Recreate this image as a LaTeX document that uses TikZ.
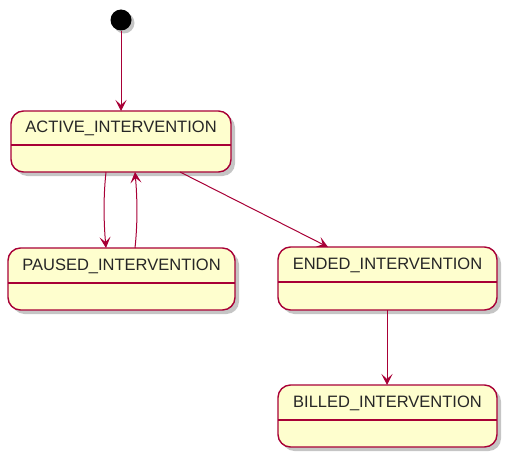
\documentclass[tikz,border=0pt]{standalone}
\usepackage{fontspec}
\setmainfont{Liberation Sans}
\usetikzlibrary{arrows.meta,shadows}
\definecolor{umlfill}{HTML}{FEFECE}
\definecolor{umlline}{HTML}{A80036}
\tikzset{
  statebox/.style={draw=umlline, line width=1.4pt, fill=umlfill, rounded corners=12.5pt,
    drop shadow={shadow xshift=4pt, shadow yshift=-4pt, fill=black!45, opacity=0.5}},
  conn/.style={draw=umlline, line width=1pt, -{Stealth[length=11pt,width=11pt,inset=5pt]}},
  lbl/.style={font=\fontsize{16.5pt}{18pt}\selectfont, text=black!85}
}
\begin{document}
\begin{tikzpicture}[x=1pt,y=-1pt]
\useasboundingbox (0,0) rectangle (510,460);
% initial
\node[circle, fill=black, minimum size=21pt, inner sep=0pt,
  drop shadow={shadow xshift=3pt, shadow yshift=-3pt, fill=black!45, opacity=0.5}] (init) at (121,20) {};
% states
\newcommand\umlstate[5]{%
  \path[statebox] (#1,#2) rectangle (#3,#4);
  \draw[umlline, line width=1.4pt] (#1,#5) -- (#3,#5);
}
\umlstate{11}{111}{231}{172}{145}
\node[lbl] (active) at (121,128.5) {ACTIVE\_INTERVENTION};
\umlstate{8}{248}{235}{310}{283}
\node[lbl] (paused) at (121.5,266) {PAUSED\_INTERVENTION};
\umlstate{278}{247}{497}{310}{282}
\node[lbl] (ended) at (387.5,265) {ENDED\_INTERVENTION};
\umlstate{278}{385}{497}{447}{420}
\node[lbl] (billed) at (387.5,403) {BILLED\_INTERVENTION};
% anchor coordinates
\coordinate (a1) at (106,172);
\coordinate (p1) at (106,248);
\coordinate (p2) at (135,248);
\coordinate (a2) at (135,172);
\coordinate (a3) at (180,172);
\coordinate (e1) at (328,247);
\coordinate (e2) at (387,310);
\coordinate (b1) at (387,385);
\coordinate (a0) at (121,111);
% connectors
\draw[conn] (init) -- (a0);
\draw[conn] (a1) .. controls (103,200) and (104,225) .. (p1);
\draw[conn] (p2) .. controls (138,220) and (137,195) .. (a2);
\draw[conn] (a3) -- (e1);
\draw[conn] (e2) -- (b1);
\end{tikzpicture}
\end{document}
